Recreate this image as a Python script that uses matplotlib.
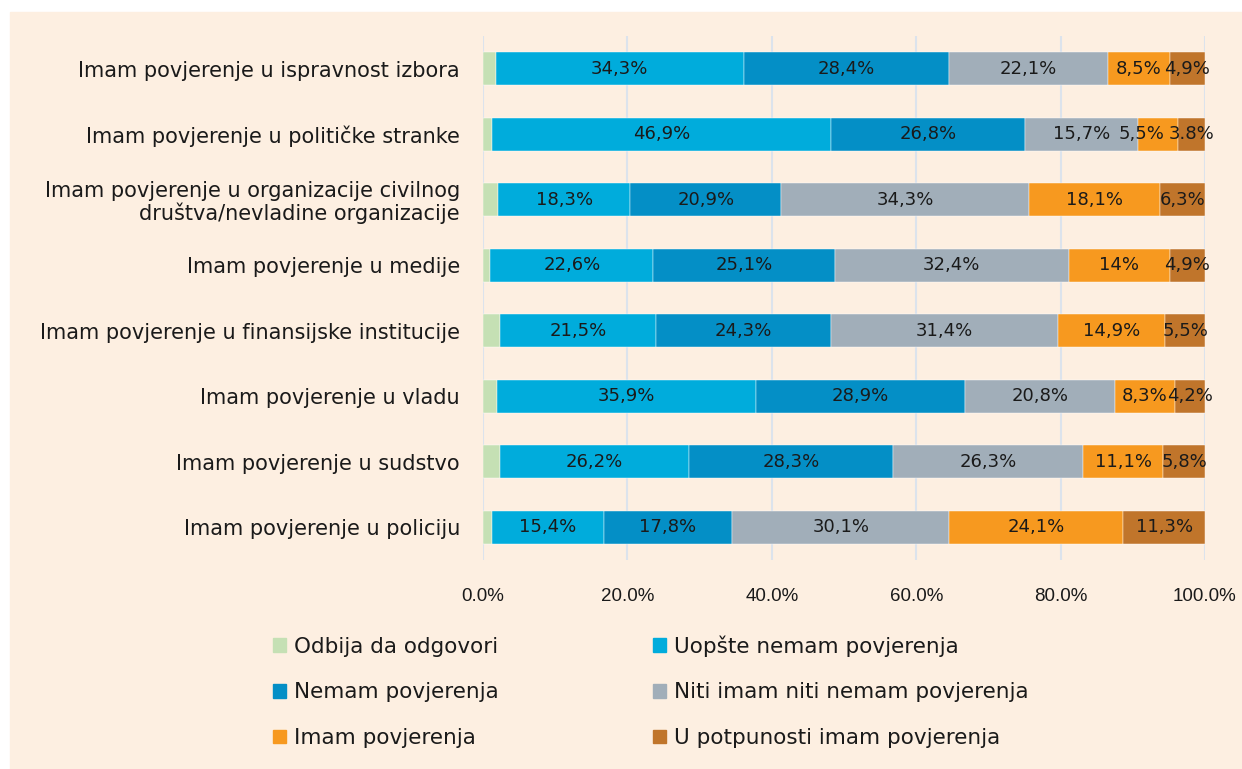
import numpy as np
import matplotlib.pyplot as plt
from matplotlib.patches import Patch

categories = [
    "Imam povjerenje u ispravnost izbora",
    "Imam povjerenje u političke stranke",
    "Imam povjerenje u organizacije civilnog\ndruštva/nevladine organizacije",
    "Imam povjerenje u medije",
    "Imam povjerenje u finansijske institucije",
    "Imam povjerenje u vladu",
    "Imam povjerenje u sudstvo",
    "Imam povjerenje u policiju",
]
series = [
    "Odbija da odgovori",
    "Uopšte nemam povjerenja",
    "Nemam povjerenja",
    "Niti imam niti nemam povjerenja",
    "Imam povjerenja",
    "U potpunosti imam povjerenja",
]
odbija   = [1.8, 1.3, 2.1, 1.0, 2.4, 1.9, 2.3, 1.3]
uopste   = [34.3, 46.9, 18.3, 22.6, 21.5, 35.9, 26.2, 15.4]
nemam    = [28.4, 26.8, 20.9, 25.1, 24.3, 28.9, 28.3, 17.8]
niti     = [22.1, 15.7, 34.3, 32.4, 31.4, 20.8, 26.3, 30.1]
imam     = [8.5, 5.5, 18.1, 14.0, 14.9, 8.3, 11.1, 24.1]
potpuno  = [4.9, 3.8, 6.3, 4.9, 5.5, 4.2, 5.8, 11.3]
# labels as printed on the chart (some deviate from the usual format)
imam_lbl    = ["8,5%", "5,5%", "18,1%", "14%", "14,9%", "8,3%", "11,1%", "24,1%"]
potpuno_lbl = ["4,9%", "3.8%", "6,3%", "4,9%", "5,5%", "4,2%", "5,8%", "11,3%"]
xticks = [0, 20, 40, 60, 80, 100]

colors = ["#C5E0B4", "#00ACDC", "#048FC6", "#A1AEB9", "#F7991F", "#C0752B"]
BG = "#FDEFE1"
TXT = "#1a1a1a"

def fmt(v):
    return f"{v:.1f}%".replace(".", ",")

data = [odbija, uopste, nemam, niti, imam, potpuno]
labels = [None,
          [fmt(v) for v in uopste],
          [fmt(v) for v in nemam],
          [fmt(v) for v in niti],
          imam_lbl, potpuno_lbl]

plt.rcParams["font.family"] = ["DejaVu Sans"]

fig = plt.figure(figsize=(12.42, 7.69), dpi=100)
fig.patch.set_facecolor("white")
fig.patches.append(plt.Rectangle((10 / 1242, 0), 1, 1 - 12 / 769,
                                 transform=fig.transFigure, color=BG, zorder=-10))

ax = fig.add_axes([483 / 1242, 1 - 560 / 769, 722 / 1242, 524 / 769])
ax.set_facecolor("none")

y = np.arange(len(categories))
left = np.zeros(len(categories))
for k, (vals, lbls, col) in enumerate(zip(data, labels, colors)):
    vals = np.array(vals)
    ax.barh(y, vals, left=left, height=0.5, color=col, zorder=3,
            edgecolor="white", linewidth=0.3)
    if lbls is not None:
        for yi, l, v, t in zip(y, left, vals, lbls):
            # very narrow "Imam" segment: nudge label left so it clears its neighbour
            dx = -12 if (k == 4 and v < 6) else 0
            ax.annotate(t, (l + v / 2, yi), xytext=(dx, 0),
                        textcoords="offset points", ha="center", va="center",
                        fontsize=13, color=TXT, zorder=4)
    left += vals

ax.set_xlim(0, 100)
ax.set_ylim(len(categories) - 0.5, -0.5)
ax.set_xticks(xticks)
ax.set_xticklabels([f"{v:.1f}%" for v in xticks], fontsize=13.5,
                   family="Liberation Sans", color=TXT)
ax.set_yticks(y)
ax.set_yticklabels(categories, fontsize=15, color=TXT, linespacing=1.1)
ax.tick_params(axis="both", length=0)
ax.tick_params(axis="x", pad=20)
ax.tick_params(axis="y", pad=16.5)
ax.grid(axis="x", color="#DCE3EC", lw=1.5, zorder=0)
for s in ax.spines.values():
    s.set_visible(False)

handles = [Patch(color=c, label=s) for c, s in zip(colors, series)]
order = [0, 2, 4, 1, 3, 5]
fig.legend([handles[i] for i in order], [series[i] for i in order],
           loc="upper left", bbox_to_anchor=(258 / 1242, 1 - 620 / 769),
           ncol=2, frameon=False, fontsize=15.5, handlelength=0.6,
           handleheight=0.6, handletextpad=0.35, columnspacing=7.2,
           labelspacing=1.2, labelcolor=TXT, borderpad=0.2)

fig.savefig("out.png", dpi=100, facecolor=fig.get_facecolor())
